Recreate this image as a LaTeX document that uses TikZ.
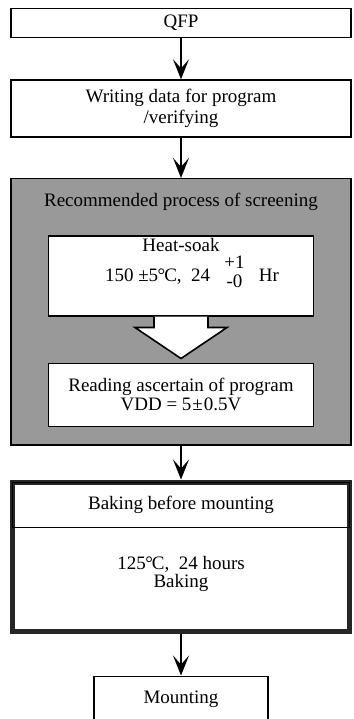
\documentclass[tikz,border=0pt]{standalone}
\usepackage{fontspec}
\setmainfont{Liberation Serif}
\usetikzlibrary{arrows.meta,calc,positioning}

\begin{document}
\begin{tikzpicture}[
    x=1pt, y=-1pt,
    every node/.style={font=\fontsize{19}{21}\selectfont},
    stagebox/.style={draw=black, line width=1.6pt, fill=white,
      minimum width=340pt, align=center},
    innerbox/.style={draw=black, line width=1.6pt, fill=white,
      minimum width=265pt, align=center},
    screenbox/.style={draw=black, line width=1.6pt, fill=black!40,
      minimum width=340pt, minimum height=266pt},
    bakebox/.style={draw=black!85, line width=5pt, fill=white,
      minimum width=337pt, minimum height=149pt},
    arrow/.style={-{Stealth[length=20pt, width=16pt, inset=9pt]}, line width=1.6pt}
  ]
  \useasboundingbox (0,0) rectangle (353,719);

  \node[stagebox, minimum height=29pt] (qfp) at (181,23) {QFP};
  \node[stagebox, minimum height=57pt, below=41pt of qfp] (writing)
    {Writing data for program\\/verifying};

  % screening block
  \node[screenbox, below=40pt of writing] (screen) {};
  \node (screenTitle) at ($(screen.north)+(0,24)$) {Recommended process of screening};
  \node[innerbox, minimum height=80pt, below=57pt of screen.north] (heat) {};
  \node[align=center] (heatText) at ($(heat.center)+(0,-10)$)
    {Heat-soak\\[1pt]\hspace*{22pt}150 ±5\kern-0.5pt°\kern-1pt C,\enspace 24\enspace\
     \raisebox{-6pt}{\begin{tabular}[b]{@{}c@{}}+1\\[-2pt]-0\end{tabular}}\enspace\ Hr};
  \node[innerbox, minimum height=63pt, below=46pt of heat] (read)
    {Reading ascertain of program\\[-2pt]VDD = 5\kern1pt±\kern1pt0.5V};
  \draw[line width=1.6pt, fill=white]
    ($(heat.south)+(-27,0)$) -- ($(heat.south)+(-27,11)$) -- ($(heat.south)+(-46,11)$)
    -- ($(read.north)+(0,-4)$) -- ($(heat.south)+(46,11)$) -- ($(heat.south)+(27,11)$)
    -- ($(heat.south)+(27,0)$);

  % baking block
  \node[bakebox, below=34pt of screen] (bake) {};
  \node[draw, line width=1.2pt, minimum width=337pt, minimum height=45pt, anchor=north]
    (bakeHead) at ($(bake.north)+(0,2.5)$) {Baking before mounting};
  \node[align=center] (bakeBody) at ($(bakeHead.south)+(0,46)$)
    {125\kern-0.5pt°\kern-1pt C,\enspace 24 hours\\[-3pt]Baking};

  \node[stagebox, minimum width=174pt, minimum height=45pt, below=42pt of bake] (mount)
    {Mounting};

  \draw[arrow] (qfp) -- (writing);
  \draw[arrow] (writing) -- (screen);
  \draw[arrow] (screen) -- (bake);
  \draw[arrow] (bake) -- (mount);
\end{tikzpicture}
\end{document}
